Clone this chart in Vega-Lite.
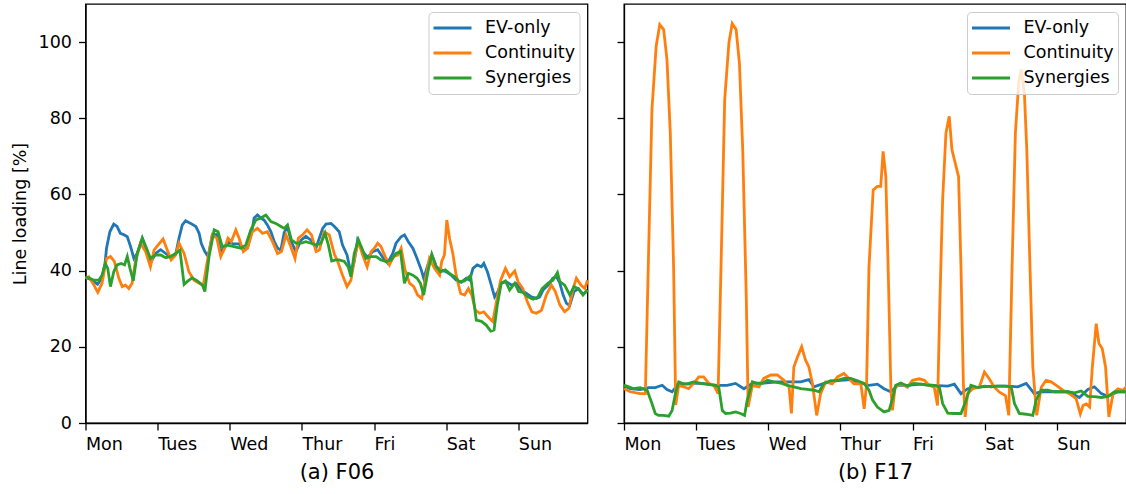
{
"$schema": "https://vega.github.io/schema/vega-lite/v6.json",
"background": "white",
"padding": {"left": 9.5, "top": 3, "right": 0, "bottom": 0},
"spacing": 20.5,
"config": {
  "font": "DejaVu Sans",
  "view": {"stroke": "#000", "strokeWidth": 1.3},
  "axis": {"domainColor": "#000", "domainWidth": 1.3, "tickColor": "#000", "tickWidth": 1.3, "tickSize": 7, "labelColor": "#000", "labelFontSize": 17.5, "labelFont": "DejaVu Sans", "titleColor": "#000", "titleFont": "DejaVu Sans", "titleFontWeight": "normal", "grid": false, "labelPadding": 7},
  "axisX": {"labelPadding": 5},
  "legend": {"title": null, "orient": "top-right", "offset": 8, "symbolType": "stroke", "symbolSize": 1444, "symbolStrokeWidth": 2.8, "clipHeight": 25, "rowPadding": 0, "labelFontSize": 17.5, "labelFont": "DejaVu Sans", "labelColor": "#000", "labelOffset": 12, "padding": 3.5, "strokeColor": "#cccccc", "fillColor": "rgba(255,255,255,0.8)", "cornerRadius": 4}
},
"datasets": {
"F06": [
{"s":"EV-only","h":0,"v":38.2},{"s":"EV-only","h":2,"v":37.6},{"s":"EV-only","h":4,"v":36.4},{"s":"EV-only","h":5.5,"v":38},{"s":"EV-only","h":6.5,"v":42},{"s":"EV-only","h":7,"v":45.9},{"s":"EV-only","h":8.1,"v":50.2},{"s":"EV-only","h":9.4,"v":52.2},{"s":"EV-only","h":10.5,"v":51.6},{"s":"EV-only","h":11.6,"v":49.8},{"s":"EV-only","h":12.8,"v":49.4},{"s":"EV-only","h":13.9,"v":48.9},{"s":"EV-only","h":15,"v":46.3},{"s":"EV-only","h":16.1,"v":43.2},{"s":"EV-only","h":17.2,"v":44.5},{"s":"EV-only","h":18.9,"v":48.5},{"s":"EV-only","h":20.3,"v":45.5},{"s":"EV-only","h":21.6,"v":42},{"s":"EV-only","h":23.3,"v":44.5},{"s":"EV-only","h":25,"v":45.5},{"s":"EV-only","h":26.7,"v":44.5},{"s":"EV-only","h":28.3,"v":43.5},{"s":"EV-only","h":30,"v":44.3},{"s":"EV-only","h":31.1,"v":48.5},{"s":"EV-only","h":32.2,"v":52},{"s":"EV-only","h":33.3,"v":53.1},{"s":"EV-only","h":35,"v":52.4},{"s":"EV-only","h":36.7,"v":51.6},{"s":"EV-only","h":37.8,"v":49.8},{"s":"EV-only","h":38.5,"v":47.2},{"s":"EV-only","h":39.7,"v":45},{"s":"EV-only","h":40.8,"v":43.7},{"s":"EV-only","h":42.2,"v":49.4},{"s":"EV-only","h":43.7,"v":49.5},{"s":"EV-only","h":45,"v":45},{"s":"EV-only","h":46.3,"v":46},{"s":"EV-only","h":47.4,"v":47.5},{"s":"EV-only","h":49.4,"v":47},{"s":"EV-only","h":51.1,"v":47},{"s":"EV-only","h":52.5,"v":45.5},{"s":"EV-only","h":53.9,"v":46},{"s":"EV-only","h":55.5,"v":51},{"s":"EV-only","h":56.1,"v":53.8},{"s":"EV-only","h":57.2,"v":54.6},{"s":"EV-only","h":58.3,"v":53.8},{"s":"EV-only","h":59.4,"v":53.3},{"s":"EV-only","h":60.5,"v":52},{"s":"EV-only","h":61.7,"v":50.2},{"s":"EV-only","h":62.8,"v":47.6},{"s":"EV-only","h":63.9,"v":45.9},{"s":"EV-only","h":65,"v":45.4},{"s":"EV-only","h":66.1,"v":50},{"s":"EV-only","h":67.2,"v":51.5},{"s":"EV-only","h":68.5,"v":47.5},{"s":"EV-only","h":70,"v":45},{"s":"EV-only","h":71.7,"v":48},{"s":"EV-only","h":73.3,"v":49},{"s":"EV-only","h":75,"v":48},{"s":"EV-only","h":76.7,"v":46},{"s":"EV-only","h":78.9,"v":51.1},{"s":"EV-only","h":80,"v":52.2},{"s":"EV-only","h":81.7,"v":52.4},{"s":"EV-only","h":82.8,"v":51.6},{"s":"EV-only","h":84.4,"v":50.2},{"s":"EV-only","h":85.5,"v":46.7},{"s":"EV-only","h":87,"v":44.1},{"s":"EV-only","h":88.3,"v":39.3},{"s":"EV-only","h":89.4,"v":42.4},{"s":"EV-only","h":90.5,"v":48},{"s":"EV-only","h":92.2,"v":45},{"s":"EV-only","h":93.9,"v":43.5},{"s":"EV-only","h":95.5,"v":45},{"s":"EV-only","h":97.2,"v":45.5},{"s":"EV-only","h":98.9,"v":43.5},{"s":"EV-only","h":100.5,"v":42},{"s":"EV-only","h":102.2,"v":44.5},{"s":"EV-only","h":103.3,"v":47.2},{"s":"EV-only","h":105,"v":48.9},{"s":"EV-only","h":106.1,"v":49.4},{"s":"EV-only","h":107.4,"v":47.6},{"s":"EV-only","h":108.9,"v":45.9},{"s":"EV-only","h":110.3,"v":43.2},{"s":"EV-only","h":111.7,"v":40.2},{"s":"EV-only","h":112.5,"v":38},{"s":"EV-only","h":113.9,"v":41.5},{"s":"EV-only","h":115.2,"v":44.1},{"s":"EV-only","h":116.7,"v":41},{"s":"EV-only","h":118.3,"v":40.2},{"s":"EV-only","h":120,"v":39.7},{"s":"EV-only","h":121.7,"v":38.8},{"s":"EV-only","h":123.3,"v":37.5},{"s":"EV-only","h":125,"v":36.9},{"s":"EV-only","h":126.7,"v":38},{"s":"EV-only","h":127.8,"v":37.5},{"s":"EV-only","h":128.9,"v":40.6},{"s":"EV-only","h":130.3,"v":41.5},{"s":"EV-only","h":131.7,"v":41},{"s":"EV-only","h":132.5,"v":41.9},{"s":"EV-only","h":133.7,"v":39.7},{"s":"EV-only","h":135,"v":36.2},{"s":"EV-only","h":136.1,"v":33.1},{"s":"EV-only","h":137.2,"v":34.5},{"s":"EV-only","h":138.3,"v":36.7},{"s":"EV-only","h":140,"v":37.1},{"s":"EV-only","h":141.7,"v":36.2},{"s":"EV-only","h":143.3,"v":36.6},{"s":"EV-only","h":145,"v":34.9},{"s":"EV-only","h":146.7,"v":34},{"s":"EV-only","h":148.3,"v":33.1},{"s":"EV-only","h":150,"v":32.7},{"s":"EV-only","h":151.1,"v":33.1},{"s":"EV-only","h":152.2,"v":34.9},{"s":"EV-only","h":153.9,"v":36.2},{"s":"EV-only","h":155.5,"v":38},{"s":"EV-only","h":156.7,"v":38.4},{"s":"EV-only","h":157.8,"v":36.7},{"s":"EV-only","h":158.9,"v":33.6},{"s":"EV-only","h":160,"v":31.4},{"s":"EV-only","h":161.1,"v":30.9},{"s":"EV-only","h":162.5,"v":34.5},{"s":"EV-only","h":164,"v":35.3},{"s":"EV-only","h":165.5,"v":33.8},{"s":"EV-only","h":167,"v":34.8},
{"s":"Continuity","h":0,"v":38},{"s":"Continuity","h":1.1,"v":38.4},{"s":"Continuity","h":2.8,"v":36.2},{"s":"Continuity","h":4.1,"v":34.3},{"s":"Continuity","h":5.5,"v":36.7},{"s":"Continuity","h":7,"v":43.2},{"s":"Continuity","h":8.3,"v":43.7},{"s":"Continuity","h":9.6,"v":42.4},{"s":"Continuity","h":11.1,"v":38},{"s":"Continuity","h":12.2,"v":35.8},{"s":"Continuity","h":13.3,"v":36.2},{"s":"Continuity","h":14.4,"v":35.3},{"s":"Continuity","h":15.5,"v":36.7},{"s":"Continuity","h":16.6,"v":42.4},{"s":"Continuity","h":18.3,"v":47.2},{"s":"Continuity","h":20,"v":45},{"s":"Continuity","h":21.6,"v":41},{"s":"Continuity","h":22.8,"v":45.4},{"s":"Continuity","h":24.1,"v":46.7},{"s":"Continuity","h":25.8,"v":48.3},{"s":"Continuity","h":27.2,"v":45.4},{"s":"Continuity","h":28.5,"v":42.8},{"s":"Continuity","h":30,"v":44.1},{"s":"Continuity","h":31.1,"v":47.2},{"s":"Continuity","h":32.8,"v":44.5},{"s":"Continuity","h":34.4,"v":39.7},{"s":"Continuity","h":36.1,"v":37.5},{"s":"Continuity","h":37.8,"v":36.7},{"s":"Continuity","h":39.2,"v":36.2},{"s":"Continuity","h":40.5,"v":42.4},{"s":"Continuity","h":42.2,"v":49.4},{"s":"Continuity","h":43.7,"v":48.5},{"s":"Continuity","h":45,"v":43.7},{"s":"Continuity","h":46.3,"v":45.9},{"s":"Continuity","h":47.4,"v":48.5},{"s":"Continuity","h":48.5,"v":47.6},{"s":"Continuity","h":50,"v":50.7},{"s":"Continuity","h":51.1,"v":48.5},{"s":"Continuity","h":52.5,"v":45},{"s":"Continuity","h":53.9,"v":45.9},{"s":"Continuity","h":55.5,"v":50.2},{"s":"Continuity","h":57.2,"v":51.1},{"s":"Continuity","h":58.9,"v":49.8},{"s":"Continuity","h":60.5,"v":50.2},{"s":"Continuity","h":62.2,"v":47.6},{"s":"Continuity","h":63.9,"v":44.5},{"s":"Continuity","h":65.2,"v":45},{"s":"Continuity","h":66.7,"v":49.4},{"s":"Continuity","h":68.1,"v":46.7},{"s":"Continuity","h":69.7,"v":43.2},{"s":"Continuity","h":70.8,"v":48.5},{"s":"Continuity","h":72.2,"v":49.4},{"s":"Continuity","h":73.7,"v":50.7},{"s":"Continuity","h":75.2,"v":49.4},{"s":"Continuity","h":76.7,"v":45},{"s":"Continuity","h":77.8,"v":45.4},{"s":"Continuity","h":79.4,"v":50.2},{"s":"Continuity","h":81.1,"v":49.4},{"s":"Continuity","h":82.8,"v":44.3},{"s":"Continuity","h":83.9,"v":42.4},{"s":"Continuity","h":85.5,"v":38.8},{"s":"Continuity","h":87,"v":35.8},{"s":"Continuity","h":88.3,"v":37.5},{"s":"Continuity","h":89.7,"v":44.1},{"s":"Continuity","h":90.8,"v":47.6},{"s":"Continuity","h":92.2,"v":44.1},{"s":"Continuity","h":93.7,"v":41},{"s":"Continuity","h":95,"v":45},{"s":"Continuity","h":96.1,"v":45.9},{"s":"Continuity","h":97.2,"v":47.2},{"s":"Continuity","h":98.3,"v":46.3},{"s":"Continuity","h":99.7,"v":43.7},{"s":"Continuity","h":101.1,"v":41.5},{"s":"Continuity","h":102.5,"v":43.7},{"s":"Continuity","h":103.9,"v":44.1},{"s":"Continuity","h":105,"v":45.9},{"s":"Continuity","h":106.3,"v":40.2},{"s":"Continuity","h":107.8,"v":36.7},{"s":"Continuity","h":109.2,"v":35.8},{"s":"Continuity","h":110.5,"v":33.6},{"s":"Continuity","h":111.9,"v":32.7},{"s":"Continuity","h":113,"v":37.5},{"s":"Continuity","h":114.4,"v":43.2},{"s":"Continuity","h":116.1,"v":40.6},{"s":"Continuity","h":117.8,"v":38.8},{"s":"Continuity","h":118.5,"v":42.4},{"s":"Continuity","h":119.4,"v":44.1},{"s":"Continuity","h":120.2,"v":53.3},{"s":"Continuity","h":121.1,"v":48.5},{"s":"Continuity","h":122.2,"v":44.5},{"s":"Continuity","h":123.3,"v":38.8},{"s":"Continuity","h":124.8,"v":34},{"s":"Continuity","h":126.1,"v":33.6},{"s":"Continuity","h":127.4,"v":35.3},{"s":"Continuity","h":128.5,"v":33.6},{"s":"Continuity","h":129.7,"v":29.6},{"s":"Continuity","h":131.1,"v":28.8},{"s":"Continuity","h":132.5,"v":29.2},{"s":"Continuity","h":133.9,"v":27.9},{"s":"Continuity","h":135.5,"v":26.6},{"s":"Continuity","h":136.7,"v":31.8},{"s":"Continuity","h":138.1,"v":37.5},{"s":"Continuity","h":139.7,"v":40.6},{"s":"Continuity","h":141.1,"v":38.4},{"s":"Continuity","h":142.8,"v":39.9},{"s":"Continuity","h":143.9,"v":37.1},{"s":"Continuity","h":145.5,"v":35.3},{"s":"Continuity","h":147,"v":31.8},{"s":"Continuity","h":148.5,"v":29.2},{"s":"Continuity","h":150,"v":28.8},{"s":"Continuity","h":151.7,"v":29.6},{"s":"Continuity","h":153.3,"v":33.6},{"s":"Continuity","h":155,"v":36.2},{"s":"Continuity","h":156.3,"v":34.5},{"s":"Continuity","h":157.8,"v":31},{"s":"Continuity","h":159.4,"v":29.2},{"s":"Continuity","h":160.8,"v":30.1},{"s":"Continuity","h":162.2,"v":35.3},{"s":"Continuity","h":163.3,"v":38},{"s":"Continuity","h":164.8,"v":36.2},{"s":"Continuity","h":166.1,"v":35.3},{"s":"Continuity","h":167,"v":37.5},
{"s":"Synergies","h":0,"v":38.4},{"s":"Synergies","h":1.1,"v":38.1},{"s":"Synergies","h":2.8,"v":37.5},{"s":"Synergies","h":4.4,"v":37.5},{"s":"Synergies","h":5.5,"v":38.8},{"s":"Synergies","h":6.6,"v":41.9},{"s":"Synergies","h":7.4,"v":40.6},{"s":"Synergies","h":8.3,"v":35.8},{"s":"Synergies","h":9.4,"v":39.7},{"s":"Synergies","h":10.5,"v":41.5},{"s":"Synergies","h":11.9,"v":41.9},{"s":"Synergies","h":13,"v":41.5},{"s":"Synergies","h":13.9,"v":43.7},{"s":"Synergies","h":14.8,"v":40.6},{"s":"Synergies","h":15.9,"v":37.3},{"s":"Synergies","h":17.2,"v":44.5},{"s":"Synergies","h":18.9,"v":48.5},{"s":"Synergies","h":20.3,"v":45.9},{"s":"Synergies","h":21.6,"v":43.2},{"s":"Synergies","h":23.3,"v":44.1},{"s":"Synergies","h":25,"v":44.1},{"s":"Synergies","h":26.7,"v":43.4},{"s":"Synergies","h":28.3,"v":43.7},{"s":"Synergies","h":30,"v":44.5},{"s":"Synergies","h":31.4,"v":45.4},{"s":"Synergies","h":32.8,"v":36.4},{"s":"Synergies","h":34.1,"v":37.3},{"s":"Synergies","h":35.5,"v":38.1},{"s":"Synergies","h":37.2,"v":37.3},{"s":"Synergies","h":38.9,"v":36.2},{"s":"Synergies","h":39.7,"v":34.5},{"s":"Synergies","h":41.1,"v":43.7},{"s":"Synergies","h":42.8,"v":50.7},{"s":"Synergies","h":44.1,"v":50.2},{"s":"Synergies","h":45.5,"v":46.3},{"s":"Synergies","h":47.2,"v":46.7},{"s":"Synergies","h":49.4,"v":46.3},{"s":"Synergies","h":51.7,"v":45.9},{"s":"Synergies","h":53.3,"v":46.7},{"s":"Synergies","h":55,"v":50.7},{"s":"Synergies","h":56.7,"v":53.3},{"s":"Synergies","h":58.3,"v":53.8},{"s":"Synergies","h":60,"v":54.6},{"s":"Synergies","h":61.7,"v":52.9},{"s":"Synergies","h":63.3,"v":52.4},{"s":"Synergies","h":65,"v":51.6},{"s":"Synergies","h":66.1,"v":51.1},{"s":"Synergies","h":67.2,"v":52},{"s":"Synergies","h":68.5,"v":48.1},{"s":"Synergies","h":70,"v":47.2},{"s":"Synergies","h":71.7,"v":47.2},{"s":"Synergies","h":73.3,"v":47.6},{"s":"Synergies","h":75,"v":47.2},{"s":"Synergies","h":76.7,"v":46.7},{"s":"Synergies","h":78.3,"v":47.2},{"s":"Synergies","h":79.7,"v":49.8},{"s":"Synergies","h":80.8,"v":46.7},{"s":"Synergies","h":81.9,"v":42.5},{"s":"Synergies","h":83.3,"v":42.8},{"s":"Synergies","h":84.4,"v":42.8},{"s":"Synergies","h":86.1,"v":42.4},{"s":"Synergies","h":87.4,"v":41},{"s":"Synergies","h":88.3,"v":38.4},{"s":"Synergies","h":89.4,"v":44.5},{"s":"Synergies","h":90.8,"v":48.1},{"s":"Synergies","h":92.2,"v":45.4},{"s":"Synergies","h":93.3,"v":43.2},{"s":"Synergies","h":95,"v":43.7},{"s":"Synergies","h":96.7,"v":43.7},{"s":"Synergies","h":98.3,"v":42.8},{"s":"Synergies","h":100,"v":42.4},{"s":"Synergies","h":101.7,"v":42.8},{"s":"Synergies","h":103.3,"v":44.5},{"s":"Synergies","h":104.8,"v":45},{"s":"Synergies","h":106.1,"v":36.7},{"s":"Synergies","h":107.4,"v":39.3},{"s":"Synergies","h":108.9,"v":38.8},{"s":"Synergies","h":110.3,"v":38},{"s":"Synergies","h":111.4,"v":36.7},{"s":"Synergies","h":112.5,"v":33.6},{"s":"Synergies","h":113.9,"v":39.7},{"s":"Synergies","h":115.2,"v":44.3},{"s":"Synergies","h":116.7,"v":41},{"s":"Synergies","h":118.1,"v":39.7},{"s":"Synergies","h":119.7,"v":40.2},{"s":"Synergies","h":121.1,"v":39.3},{"s":"Synergies","h":122.8,"v":38.4},{"s":"Synergies","h":124.4,"v":37.1},{"s":"Synergies","h":126.1,"v":37.3},{"s":"Synergies","h":128.1,"v":38.7},{"s":"Synergies","h":129.2,"v":31.8},{"s":"Synergies","h":130,"v":27},{"s":"Synergies","h":131.7,"v":26.7},{"s":"Synergies","h":133.3,"v":25.7},{"s":"Synergies","h":134.8,"v":24.1},{"s":"Synergies","h":135.9,"v":24.4},{"s":"Synergies","h":137,"v":31},{"s":"Synergies","h":138.3,"v":36.7},{"s":"Synergies","h":139.7,"v":37.3},{"s":"Synergies","h":141.1,"v":34.9},{"s":"Synergies","h":142.8,"v":36.7},{"s":"Synergies","h":144.1,"v":34.5},{"s":"Synergies","h":145.5,"v":34.3},{"s":"Synergies","h":147.2,"v":33.1},{"s":"Synergies","h":148.9,"v":32.5},{"s":"Synergies","h":150.5,"v":33.1},{"s":"Synergies","h":151.9,"v":35.3},{"s":"Synergies","h":153.9,"v":36.7},{"s":"Synergies","h":155.5,"v":37.5},{"s":"Synergies","h":157,"v":39.5},{"s":"Synergies","h":157.8,"v":37.1},{"s":"Synergies","h":159.4,"v":36.2},{"s":"Synergies","h":161.1,"v":33.6},{"s":"Synergies","h":162.5,"v":35.8},{"s":"Synergies","h":163.9,"v":35.3},{"s":"Synergies","h":165.5,"v":33.6},{"s":"Synergies","h":167,"v":34.9}
],
"F17": [
{"s":"EV-only","h":0,"v":9.7},{"s":"EV-only","h":2.1,"v":9},{"s":"EV-only","h":5.4,"v":8.8},{"s":"EV-only","h":8.2,"v":9.3},{"s":"EV-only","h":10.4,"v":9.3},{"s":"EV-only","h":12.7,"v":9.9},{"s":"EV-only","h":14.3,"v":8.8},{"s":"EV-only","h":16,"v":8.2},{"s":"EV-only","h":18.2,"v":10.4},{"s":"EV-only","h":21,"v":10.2},{"s":"EV-only","h":24.3,"v":10.5},{"s":"EV-only","h":27.7,"v":10.2},{"s":"EV-only","h":31,"v":9.9},{"s":"EV-only","h":34.3,"v":9.9},{"s":"EV-only","h":37.1,"v":10.4},{"s":"EV-only","h":39.9,"v":9},{"s":"EV-only","h":42.7,"v":10.4},{"s":"EV-only","h":46.5,"v":10.5},{"s":"EV-only","h":51,"v":10.8},{"s":"EV-only","h":55.4,"v":10.8},{"s":"EV-only","h":58.8,"v":10.8},{"s":"EV-only","h":61.5,"v":11.4},{"s":"EV-only","h":63.2,"v":9.5},{"s":"EV-only","h":66.5,"v":10.4},{"s":"EV-only","h":71,"v":11.1},{"s":"EV-only","h":75.4,"v":11.4},{"s":"EV-only","h":78.8,"v":10.5},{"s":"EV-only","h":81.5,"v":9.9},{"s":"EV-only","h":84.3,"v":10.2},{"s":"EV-only","h":86.5,"v":9},{"s":"EV-only","h":88.8,"v":8.2},{"s":"EV-only","h":91,"v":9.9},{"s":"EV-only","h":94.3,"v":9.9},{"s":"EV-only","h":98.8,"v":10.2},{"s":"EV-only","h":103.2,"v":9.9},{"s":"EV-only","h":107.7,"v":9.7},{"s":"EV-only","h":109.9,"v":10.2},{"s":"EV-only","h":112.1,"v":7.7},{"s":"EV-only","h":114.3,"v":9},{"s":"EV-only","h":118.8,"v":9.5},{"s":"EV-only","h":123.2,"v":9.7},{"s":"EV-only","h":127.7,"v":9.7},{"s":"EV-only","h":131,"v":9.5},{"s":"EV-only","h":133.8,"v":10.4},{"s":"EV-only","h":136.5,"v":7.7},{"s":"EV-only","h":138.8,"v":8.2},{"s":"EV-only","h":143.2,"v":8.2},{"s":"EV-only","h":147.7,"v":8.2},{"s":"EV-only","h":151.5,"v":6.7},{"s":"EV-only","h":154.3,"v":8.8},{"s":"EV-only","h":156.5,"v":9.5},{"s":"EV-only","h":158.8,"v":7.7},{"s":"EV-only","h":161,"v":7},{"s":"EV-only","h":164.3,"v":8.2},{"s":"EV-only","h":167,"v":8.2},
{"s":"Continuity","h":0,"v":9},{"s":"Continuity","h":2.1,"v":8.2},{"s":"Continuity","h":5.4,"v":7.7},{"s":"Continuity","h":7.1,"v":7.7},{"s":"Continuity","h":8.2,"v":45.4},{"s":"Continuity","h":9.3,"v":82.3},{"s":"Continuity","h":10.7,"v":98.9},{"s":"Continuity","h":11.9,"v":104.6},{"s":"Continuity","h":13.2,"v":103.3},{"s":"Continuity","h":14.3,"v":95.4},{"s":"Continuity","h":15.4,"v":76.1},{"s":"Continuity","h":16.5,"v":41},{"s":"Continuity","h":17.2,"v":4.7},{"s":"Continuity","h":18.2,"v":9.9},{"s":"Continuity","h":19.9,"v":9.5},{"s":"Continuity","h":21.5,"v":9},{"s":"Continuity","h":23.2,"v":10.4},{"s":"Continuity","h":24.9,"v":12.1},{"s":"Continuity","h":26.5,"v":12.1},{"s":"Continuity","h":28.2,"v":10.4},{"s":"Continuity","h":29.9,"v":9.9},{"s":"Continuity","h":31.3,"v":7.7},{"s":"Continuity","h":32.4,"v":45.4},{"s":"Continuity","h":33.5,"v":84.9},{"s":"Continuity","h":34.9,"v":99.8},{"s":"Continuity","h":36,"v":104.9},{"s":"Continuity","h":37.3,"v":103.3},{"s":"Continuity","h":38.4,"v":94.5},{"s":"Continuity","h":39.5,"v":71.7},{"s":"Continuity","h":40.7,"v":32.2},{"s":"Continuity","h":41.3,"v":4.2},{"s":"Continuity","h":42.7,"v":9.9},{"s":"Continuity","h":44.9,"v":9.5},{"s":"Continuity","h":46.5,"v":11.7},{"s":"Continuity","h":48.8,"v":12.6},{"s":"Continuity","h":51,"v":12.6},{"s":"Continuity","h":53.2,"v":11.2},{"s":"Continuity","h":54.9,"v":9.5},{"s":"Continuity","h":55.7,"v":2.5},{"s":"Continuity","h":56.5,"v":14.7},{"s":"Continuity","h":57.7,"v":17.3},{"s":"Continuity","h":59.1,"v":20},{"s":"Continuity","h":60.4,"v":16.5},{"s":"Continuity","h":61.5,"v":14.7},{"s":"Continuity","h":62.7,"v":10.3},{"s":"Continuity","h":64.1,"v":2},{"s":"Continuity","h":65.4,"v":7.7},{"s":"Continuity","h":67.1,"v":10.8},{"s":"Continuity","h":69.3,"v":10.3},{"s":"Continuity","h":71,"v":12.1},{"s":"Continuity","h":73.2,"v":13},{"s":"Continuity","h":74.9,"v":11.6},{"s":"Continuity","h":76.5,"v":10.3},{"s":"Continuity","h":78.8,"v":10.3},{"s":"Continuity","h":79.9,"v":3.7},{"s":"Continuity","h":80.7,"v":10.3},{"s":"Continuity","h":81.5,"v":41},{"s":"Continuity","h":82.9,"v":61.2},{"s":"Continuity","h":84.3,"v":62.1},{"s":"Continuity","h":85.4,"v":62.1},{"s":"Continuity","h":86.2,"v":71.3},{"s":"Continuity","h":87.1,"v":64.7},{"s":"Continuity","h":88,"v":36.6},{"s":"Continuity","h":88.8,"v":8.6},{"s":"Continuity","h":89.3,"v":3.3},{"s":"Continuity","h":90.2,"v":9.4},{"s":"Continuity","h":92.1,"v":10.3},{"s":"Continuity","h":94.3,"v":9.4},{"s":"Continuity","h":96,"v":11.2},{"s":"Continuity","h":98.2,"v":11.6},{"s":"Continuity","h":99.9,"v":11.2},{"s":"Continuity","h":101.5,"v":9.9},{"s":"Continuity","h":103.2,"v":9.4},{"s":"Continuity","h":104.3,"v":4.6},{"s":"Continuity","h":105.1,"v":32.2},{"s":"Continuity","h":106,"v":58.6},{"s":"Continuity","h":107.1,"v":76.1},{"s":"Continuity","h":108.2,"v":80.5},{"s":"Continuity","h":109.1,"v":71.7},{"s":"Continuity","h":110.2,"v":68.2},{"s":"Continuity","h":111.3,"v":64.7},{"s":"Continuity","h":112.1,"v":41},{"s":"Continuity","h":112.9,"v":10.3},{"s":"Continuity","h":113.5,"v":1.6},{"s":"Continuity","h":114.3,"v":7.7},{"s":"Continuity","h":116,"v":9},{"s":"Continuity","h":118.2,"v":9.4},{"s":"Continuity","h":119.9,"v":13.4},{"s":"Continuity","h":121.5,"v":11.6},{"s":"Continuity","h":123.2,"v":9.4},{"s":"Continuity","h":124.9,"v":8.1},{"s":"Continuity","h":126.9,"v":7.2},{"s":"Continuity","h":128,"v":2},{"s":"Continuity","h":129.1,"v":41},{"s":"Continuity","h":130.2,"v":76.1},{"s":"Continuity","h":131.3,"v":89.3},{"s":"Continuity","h":132.1,"v":92.8},{"s":"Continuity","h":133.2,"v":86.6},{"s":"Continuity","h":134,"v":71.7},{"s":"Continuity","h":134.9,"v":45.4},{"s":"Continuity","h":136,"v":14.7},{"s":"Continuity","h":137.3,"v":2},{"s":"Continuity","h":138.8,"v":9.4},{"s":"Continuity","h":140.4,"v":11.2},{"s":"Continuity","h":142.1,"v":10.8},{"s":"Continuity","h":143.8,"v":9.9},{"s":"Continuity","h":146,"v":8.6},{"s":"Continuity","h":148.2,"v":7.7},{"s":"Continuity","h":150.4,"v":6.4},{"s":"Continuity","h":151.8,"v":2.4},{"s":"Continuity","h":152.7,"v":4.6},{"s":"Continuity","h":153.8,"v":5},{"s":"Continuity","h":154.9,"v":4.2},{"s":"Continuity","h":155.8,"v":14.7},{"s":"Continuity","h":157.1,"v":26.1},{"s":"Continuity","h":158,"v":20.9},{"s":"Continuity","h":159.1,"v":19.5},{"s":"Continuity","h":160.2,"v":14.7},{"s":"Continuity","h":161.3,"v":1.6},{"s":"Continuity","h":162.7,"v":7.7},{"s":"Continuity","h":164.3,"v":9},{"s":"Continuity","h":166,"v":8.6},{"s":"Continuity","h":167,"v":9.4},
{"s":"Synergies","h":0,"v":9.9},{"s":"Synergies","h":1,"v":9.7},{"s":"Synergies","h":3.2,"v":9},{"s":"Synergies","h":5.4,"v":9.3},{"s":"Synergies","h":7.7,"v":8.6},{"s":"Synergies","h":9.3,"v":5.1},{"s":"Synergies","h":10.4,"v":2.5},{"s":"Synergies","h":11.5,"v":2},{"s":"Synergies","h":13.2,"v":2},{"s":"Synergies","h":14.9,"v":1.8},{"s":"Synergies","h":16,"v":3.3},{"s":"Synergies","h":17.1,"v":7.7},{"s":"Synergies","h":18.2,"v":10.8},{"s":"Synergies","h":19.9,"v":10.2},{"s":"Synergies","h":21.5,"v":10.4},{"s":"Synergies","h":23.2,"v":10.8},{"s":"Synergies","h":25.4,"v":10.4},{"s":"Synergies","h":27.7,"v":10.2},{"s":"Synergies","h":29.9,"v":9.9},{"s":"Synergies","h":31.5,"v":9.5},{"s":"Synergies","h":32.7,"v":3.3},{"s":"Synergies","h":33.8,"v":2.5},{"s":"Synergies","h":35.4,"v":2.6},{"s":"Synergies","h":37.1,"v":2.9},{"s":"Synergies","h":38.8,"v":2.5},{"s":"Synergies","h":40.1,"v":2},{"s":"Synergies","h":41,"v":6},{"s":"Synergies","h":42.7,"v":10.8},{"s":"Synergies","h":44.3,"v":10.4},{"s":"Synergies","h":46,"v":10.4},{"s":"Synergies","h":47.7,"v":11.2},{"s":"Synergies","h":49.9,"v":10.8},{"s":"Synergies","h":52.1,"v":10.5},{"s":"Synergies","h":54.3,"v":9.9},{"s":"Synergies","h":56.5,"v":9.5},{"s":"Synergies","h":58.8,"v":9},{"s":"Synergies","h":61,"v":8.8},{"s":"Synergies","h":63.2,"v":8.6},{"s":"Synergies","h":64.9,"v":8.2},{"s":"Synergies","h":66.5,"v":10.4},{"s":"Synergies","h":68.8,"v":11.1},{"s":"Synergies","h":71,"v":11.2},{"s":"Synergies","h":73.2,"v":11.7},{"s":"Synergies","h":75.4,"v":11.7},{"s":"Synergies","h":77.7,"v":11.1},{"s":"Synergies","h":79.9,"v":10.4},{"s":"Synergies","h":81.5,"v":8.6},{"s":"Synergies","h":82.7,"v":6},{"s":"Synergies","h":84.3,"v":4.2},{"s":"Synergies","h":86.5,"v":2.9},{"s":"Synergies","h":88.2,"v":3.3},{"s":"Synergies","h":89.3,"v":6.4},{"s":"Synergies","h":90.4,"v":9.9},{"s":"Synergies","h":92.1,"v":10.5},{"s":"Synergies","h":94.3,"v":9.7},{"s":"Synergies","h":96.5,"v":10.4},{"s":"Synergies","h":98.8,"v":10.2},{"s":"Synergies","h":101,"v":9.9},{"s":"Synergies","h":103.2,"v":9.9},{"s":"Synergies","h":104.9,"v":9.5},{"s":"Synergies","h":106,"v":5.1},{"s":"Synergies","h":107.7,"v":2.6},{"s":"Synergies","h":109.9,"v":2.5},{"s":"Synergies","h":112.1,"v":2.5},{"s":"Synergies","h":113.8,"v":6},{"s":"Synergies","h":115.4,"v":9.9},{"s":"Synergies","h":117.7,"v":9.3},{"s":"Synergies","h":119.9,"v":9.7},{"s":"Synergies","h":122.1,"v":9.5},{"s":"Synergies","h":124.3,"v":9.7},{"s":"Synergies","h":126.5,"v":9.7},{"s":"Synergies","h":128.8,"v":9.5},{"s":"Synergies","h":129.9,"v":5.1},{"s":"Synergies","h":131.5,"v":2.5},{"s":"Synergies","h":133.8,"v":2.3},{"s":"Synergies","h":136,"v":2},{"s":"Synergies","h":137.1,"v":6},{"s":"Synergies","h":138.8,"v":8.6},{"s":"Synergies","h":141,"v":8.6},{"s":"Synergies","h":143.2,"v":8.2},{"s":"Synergies","h":145.4,"v":8.2},{"s":"Synergies","h":147.7,"v":8.2},{"s":"Synergies","h":149.9,"v":7.9},{"s":"Synergies","h":152.1,"v":8.4},{"s":"Synergies","h":154.3,"v":7},{"s":"Synergies","h":156.5,"v":6.9},{"s":"Synergies","h":158.8,"v":6.7},{"s":"Synergies","h":161,"v":7},{"s":"Synergies","h":163.2,"v":8.2},{"s":"Synergies","h":165.4,"v":8.2},{"s":"Synergies","h":167,"v":8.2}
]
},
"hconcat": [
  {
    "width": 502, "height": 419,
    "data": {"name": "F06"},
    "mark": {"type": "line", "strokeWidth": 2.8},
    "encoding": {
      "x": {"field": "h", "type": "quantitative", "scale": {"domain": [0, 167], "nice": false, "zero": false},
        "axis": {"values": [0, 24, 48, 72, 96, 120, 144], "labelExpr": "['Mon','Tues','Wed','Thur','Fri','Sat','Sun'][round(datum.value/24)]", "labelAlign": "left", "labelFlush": false, "title": "(a) F06", "titleFontSize": 21, "titlePadding": 9}},
      "y": {"field": "v", "type": "quantitative", "scale": {"domain": [0, 110], "nice": false},
        "axis": {"values": [0, 20, 40, 60, 80, 100], "title": "Line loading [%]", "titleFontSize": 17.5, "titlePadding": 9}},
      "color": {"field": "s", "type": "nominal", "sort": null, "scale": {"domain": ["EV-only", "Continuity", "Synergies"], "range": ["#1f77b4", "#ff7f0e", "#2ca02c"]}, "legend": {"title": null, "orient": "top-right"}}
    }
  },
  {
    "width": 502, "height": 419,
    "data": {"name": "F17"},
    "mark": {"type": "line", "strokeWidth": 2.8},
    "encoding": {
      "x": {"field": "h", "type": "quantitative", "scale": {"domain": [0, 167], "nice": false, "zero": false},
        "axis": {"values": [0, 24, 48, 72, 96, 120, 144], "labelExpr": "['Mon','Tues','Wed','Thur','Fri','Sat','Sun'][round(datum.value/24)]", "labelAlign": "left", "labelFlush": false, "title": "(b) F17", "titleFontSize": 21, "titlePadding": 9}},
      "y": {"field": "v", "type": "quantitative", "scale": {"domain": [0, 110], "nice": false},
        "axis": {"values": [0, 20, 40, 60, 80, 100], "labels": false, "title": null}},
      "color": {"field": "s", "type": "nominal", "sort": null, "scale": {"domain": ["EV-only", "Continuity", "Synergies"], "range": ["#1f77b4", "#ff7f0e", "#2ca02c"]}, "legend": {"title": null, "orient": "top-right"}}
    }
  }
],
"resolve": {"legend": {"color": "independent"}}
}
